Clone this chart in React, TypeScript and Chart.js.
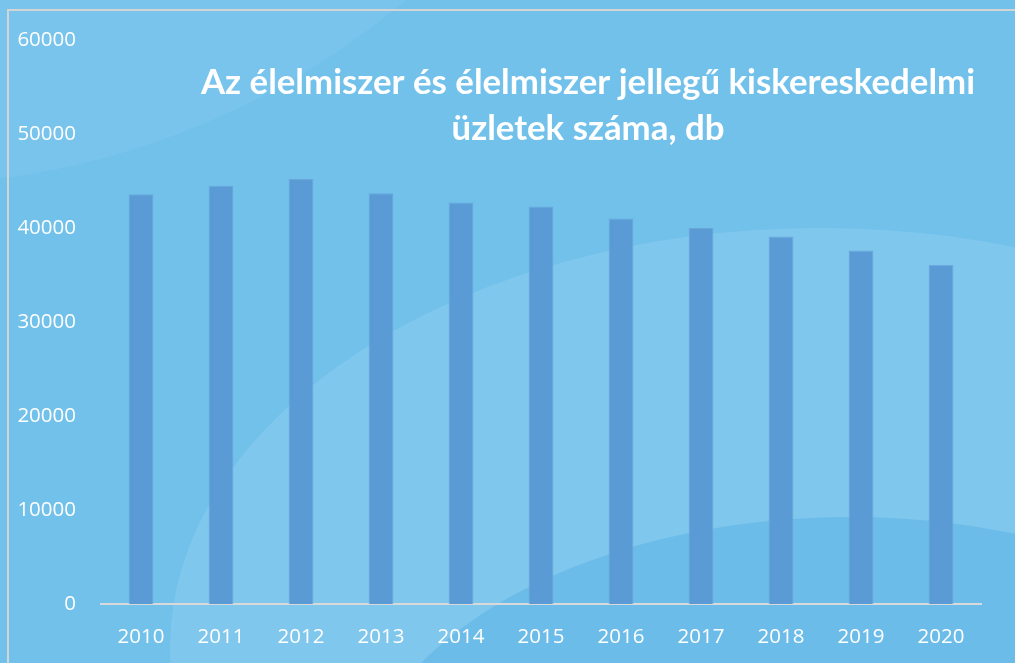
import React, { useEffect, useRef } from "react";
import { Chart, registerables } from "chart.js";

Chart.register(...registerables);

const years = ["2010", "2011", "2012", "2013", "2014", "2015", "2016", "2017", "2018", "2019", "2020"];
const storeCounts = [43600, 44500, 45200, 43700, 42700, 42300, 41000, 40000, 39100, 37600, 36100];
const titleLines = ["Az élelmiszer és élelmiszer jellegű kiskereskedelmi", "üzletek száma, db"];

const W = 1015;
const H = 663;

const bgPlugin = {
  id: "bgPlugin",
  beforeDraw(chart: any) {
    const ctx = chart.ctx;
    ctx.save();
    ctx.fillStyle = "#71C1EB";
    ctx.fillRect(0, 0, W, H);
    // top-left pale circle
    ctx.beginPath();
    ctx.arc(-100, -600, 785, 0, Math.PI * 2);
    ctx.fillStyle = "rgba(255,255,255,0.05)";
    ctx.fill();
    // large lighter ellipse
    ctx.beginPath();
    ctx.ellipse(820, 648, 650, 420, 0, 0, Math.PI * 2);
    ctx.fillStyle = "rgba(255,255,255,0.11)";
    ctx.fill();
    // lower darker ellipse
    ctx.beginPath();
    ctx.ellipse(850, 817, 500, 300, 0, 0, Math.PI * 2);
    ctx.fillStyle = "rgba(106,187,232,0.92)";
    ctx.fill();
    // border
    ctx.strokeStyle = "#D4D4D4";
    ctx.lineWidth = 2;
    ctx.beginPath();
    ctx.moveTo(8, H);
    ctx.lineTo(8, 10);
    ctx.lineTo(W, 10);
    ctx.stroke();
    ctx.restore();
  },
};

const titlePlugin = {
  id: "titlePlugin",
  afterDraw(chart: any) {
    const ctx = chart.ctx;
    ctx.save();
    ctx.fillStyle = "#FFFFFF";
    ctx.textAlign = "center";
    ctx.textBaseline = "alphabetic";
    ctx.font = "bold 34.8px Lato";
    ctx.fillText(titleLines[0], 588, 94);
    ctx.fillText(titleLines[1], 588, 140);
    ctx.restore();
  },
};

export default function App() {
  const ref = useRef<HTMLCanvasElement | null>(null);
  useEffect(() => {
    if (!ref.current) return;
    const chart = new Chart(ref.current, {
      type: "bar",
      data: {
        labels: years,
        datasets: [
          {
            data: storeCounts,
            backgroundColor: "#5B9BD5",
            borderColor: "#6AA6DA",
            borderWidth: 1,
            categoryPercentage: 1,
            barPercentage: 0.31,
          },
        ],
      },
      options: {
        animation: false,
        responsive: false,
        layout: { padding: { left: 0, right: 34, top: 40, bottom: 0 } },
        plugins: { legend: { display: false }, title: { display: false }, tooltip: { enabled: false } },
        scales: {
          x: {
            grid: { display: false },
            border: { display: true, color: "#D9D9D9", width: 2 },
            ticks: { color: "#FFFFFF", font: { family: "Open Sans", size: 20.5 }, padding: 13 },
            afterFit(scale: any) {
              scale.height = 59;
            },
          },
          y: {
            min: 0,
            max: 60000,
            grid: { display: false },
            border: { display: false },
            ticks: {
              stepSize: 10000,
              color: "#FFFFFF",
              font: { family: "Open Sans", size: 20.5 },
              padding: 17,
              callback: (v: any) => String(v),
            },
            afterFit(scale: any) {
              scale.width = 101;
            },
          },
        },
      },
      plugins: [bgPlugin, titlePlugin],
    });
    return () => chart.destroy();
  }, []);
  return (
    <div style={{ position: "fixed", left: 0, top: 0, width: W, height: H }}>
      <canvas ref={ref} width={W} height={H} style={{ width: W, height: H, display: "block" }} />
    </div>
  );
}
